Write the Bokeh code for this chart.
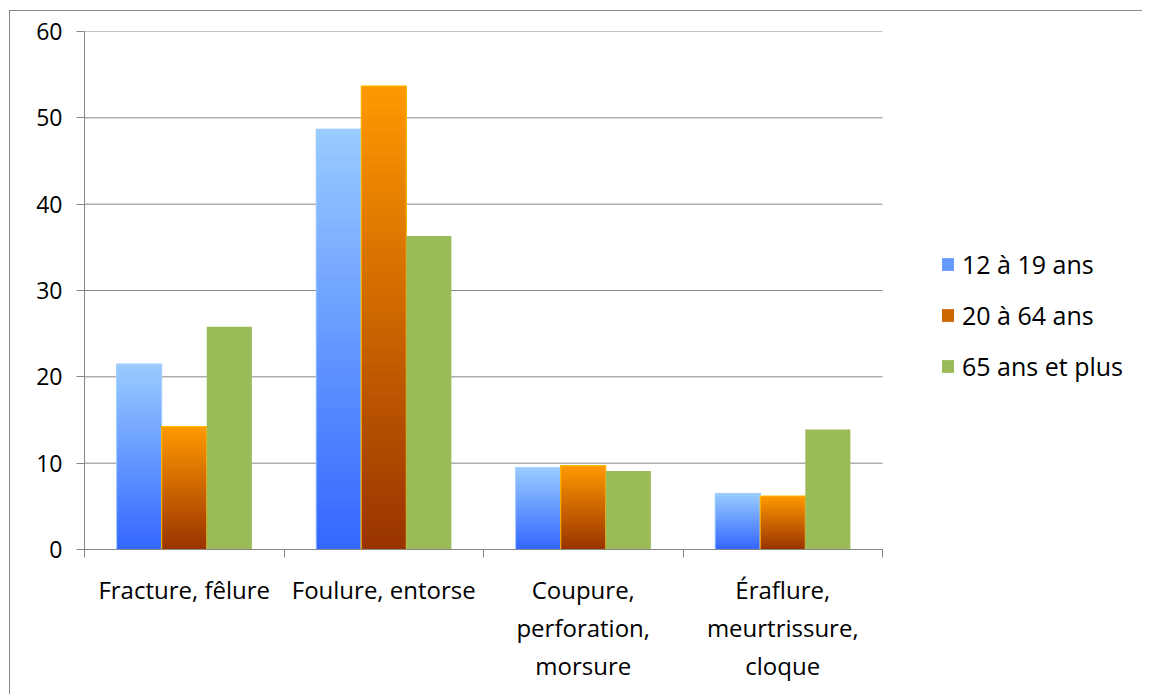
from bokeh.plotting import figure
from bokeh.models import ColumnDataSource, FixedTicker, Legend, LegendItem, Range1d
from bokeh.embed import file_html
from bokeh.resources import INLINE

# ---- data ----
categories = ["Fracture, fêlure", "Foulure, entorse",
              "Coupure,\nperforation,\nmorsure", "Éraflure,\nmeurtrissure,\ncloque"]
series_names = ["12 à 19 ans", "20 à 64 ans", "65 ans et plus"]
v_12_19 = [21.5, 48.7, 9.5, 6.5]
v_20_64 = [14.25, 53.7, 9.7, 6.2]
v_65_plus = [25.8, 36.3, 9.1, 13.9]
y_ticks = [0, 10, 20, 30, 40, 50, 60]

FONT = "Open Sans"
GRAY = "#868686"
BAR_W = 0.226
OFFSETS = [-BAR_W, 0.0, BAR_W]
N_SLICES = 60
N_CAT = len(categories)
FRAME_W = 1133 - 74
X_END = FRAME_W / 199.5  # frame extends right to hold the legend


def lerp(c1, c2, t):
    return "#%02x%02x%02x" % tuple(int(round(a + (b - a) * t)) for a, b in zip(c1, c2))


p = figure(width=1133, height=684, x_range=Range1d(0, X_END), y_range=Range1d(0, 60),
           output_backend="svg", toolbar_location=None,
           min_border_left=74, min_border_right=0, min_border_top=20, min_border_bottom=146)
p.styles = {"border-left": "1px solid #888888", "border-top": "1px solid #888888",
            "margin-left": "9px", "margin-top": "10px"}
p.outline_line_color = None
p.background_fill_color = "white"
p.xgrid.visible = False
p.ygrid.visible = False

# horizontal gridlines over the category area only
p.segment(x0=[0] * len(y_ticks), x1=[N_CAT] * len(y_ticks), y0=y_ticks, y1=y_ticks,
          line_color=GRAY, line_width=1)


def gradient_bars(values, offset, top_rgb, bottom_rgb, edge):
    L, R, B, T, C = [], [], [], [], []
    for i, v in enumerate(values):
        cx = i + 0.5 + offset
        for k in range(N_SLICES):
            L.append(cx - BAR_W / 2)
            R.append(cx + BAR_W / 2)
            B.append(v * k / N_SLICES)
            T.append(v)
            C.append(lerp(bottom_rgb, top_rgb, (k + 0.5) / N_SLICES))
    src = ColumnDataSource(dict(left=L, right=R, bottom=B, top=T, color=C))
    r = p.quad(left="left", right="right", bottom="bottom", top="top", source=src,
               fill_color="color", line_color=None)
    osrc = ColumnDataSource(dict(x=[i + 0.5 + offset for i in range(len(values))],
                                 top=values, bottom=[0] * len(values)))
    p.vbar(x="x", top="top", bottom="bottom", width=BAR_W, source=osrc,
           fill_color=None, line_color=edge, line_width=1)
    return r


r1 = gradient_bars(v_12_19, OFFSETS[0], (153, 204, 255), (51, 102, 255), "#a9d2ff")
r2 = gradient_bars(v_20_64, OFFSETS[1], (255, 153, 0), (153, 51, 0), "#ffc000")

gsrc = ColumnDataSource(dict(x=[i + 0.5 + OFFSETS[2] for i in range(len(v_65_plus))],
                             top=v_65_plus))
r3 = p.vbar(x="x", top="top", width=BAR_W, source=gsrc, fill_color="#9bbb59", line_color=None)

legend = Legend(items=[LegendItem(label=series_names[0], renderers=[r1], index=N_SLICES // 2),
                       LegendItem(label=series_names[1], renderers=[r2], index=N_SLICES // 2),
                       LegendItem(label=series_names[2], renderers=[r3], index=0)],
                location=(856, 166), orientation="vertical", padding=0, margin=0,
                spacing=17, glyph_width=15, glyph_height=16, label_height=25,
                label_standoff=7, border_line_color=None, background_fill_alpha=0,
                label_text_font_size="25px", label_text_font=FONT,
                label_text_color="black")
p.add_layout(legend)

# x axis
xa = p.xaxis[0]
xa.bounds = (0, N_CAT)
xa.ticker = FixedTicker(ticks=[i + 0.5 for i in range(N_CAT)],
                        minor_ticks=list(range(N_CAT + 1)))
xa.major_label_overrides = {i + 0.5: c for i, c in enumerate(categories)}
xa.major_tick_line_color = None
xa.major_tick_out = 0
xa.major_tick_in = 0
xa.minor_tick_line_color = GRAY
xa.minor_tick_out = 8
xa.minor_tick_in = 0
xa.axis_line_color = GRAY
xa.major_label_text_font = FONT
xa.major_label_text_font_size = "24px"
xa.major_label_text_color = "black"
xa.major_label_text_line_height = 1.1625
xa.major_label_standoff = 15

# y axis
ya = p.yaxis[0]
ya.ticker = FixedTicker(ticks=y_ticks, minor_ticks=[])
ya.major_tick_out = 8
ya.major_tick_in = 0
ya.major_tick_line_color = GRAY
ya.minor_tick_line_color = None
ya.axis_line_color = GRAY
ya.major_label_text_font = FONT
ya.major_label_text_font_size = "23px"
ya.major_label_text_color = "black"
ya.major_label_standoff = 14

open("out.html", "w").write(file_html(p, INLINE))
